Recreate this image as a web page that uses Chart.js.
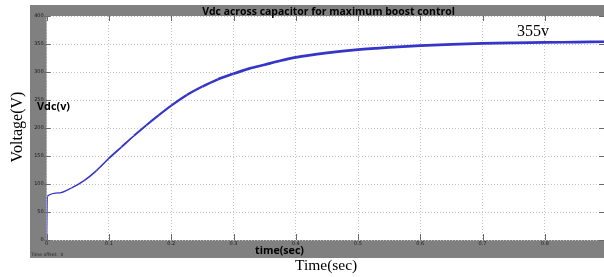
<!DOCTYPE html>
<html><head><meta charset="utf-8">
<script src="https://cdn.jsdelivr.net/npm/chart.js@4"></script>
<style>html,body{margin:0;padding:0;background:#fff;overflow:hidden}canvas{display:block}</style>
</head><body>
<canvas id="c" width="604" height="277"></canvas>
<script>
// ---- data ----
const timeSec = [0, 0.001, 0.02, 0.04, 0.06, 0.08, 0.1, 0.12, 0.14, 0.16, 0.18, 0.2, 0.225, 0.25, 0.275, 0.3, 0.325, 0.35, 0.375, 0.4, 0.45, 0.5, 0.55, 0.6, 0.65, 0.7, 0.75, 0.8, 0.85, 0.895];
const vdcVolts = [0, 78, 84, 93, 106, 124, 146, 166, 186, 205, 223, 240, 259, 274, 287, 297, 306, 313, 320, 326, 334, 340, 344, 347, 349.5, 351, 352, 352.8, 353.4, 354];
const xTickValues = [0, 0.1, 0.2, 0.3, 0.4, 0.5, 0.6, 0.7, 0.8];
const yTickValues = [0, 50, 100, 150, 200, 250, 300, 350, 400];
const chartTitle = 'Vdc across capacitor for maximum boost control';
const scopeXLabel = 'time(sec)';
const scopeYLabel = 'Vdc(v)';
const outerXLabel = 'Time(sec)';
const outerYLabel = 'Voltage(V)';
const annotation = '355v';
const offsetNote = 'Time offset:  0';

const points = timeSec.map((t, i) => ({x: t, y: vdcVolts[i]}));

function fitFont(ctx, text, weight, family, width) {
  ctx.font = weight + ' 10px ' + family;
  const w = ctx.measureText(text).width;
  const size = 10 * width / w;
  ctx.font = weight + ' ' + size.toFixed(2) + 'px ' + family;
}

const decor = {
  id: 'decor',
  beforeDraw(chart) {
    const ctx = chart.ctx, a = chart.chartArea;
    ctx.save();
    ctx.fillStyle = '#ffffff';
    ctx.fillRect(0, 0, chart.width, chart.height);
    ctx.fillStyle = '#808080';
    ctx.fillRect(30, 5, chart.width - 30, 253);
    ctx.fillStyle = '#ffffff';
    ctx.fillRect(a.left, a.top, a.right - a.left, a.bottom - a.top);
    ctx.restore();
  },
  afterDraw(chart) {
    const ctx = chart.ctx, a = chart.chartArea;
    const xs = chart.scales.x, ys = chart.scales.y;
    ctx.save();
    // inner tick marks
    ctx.strokeStyle = '#6a6a6a';
    ctx.lineWidth = 1;
    ctx.beginPath();
    xTickValues.forEach(v => {
      const px = Math.round(xs.getPixelForValue(v)) + 0.5;
      ctx.moveTo(px, a.bottom); ctx.lineTo(px, a.bottom - 6);
      ctx.moveTo(px, a.top); ctx.lineTo(px, a.top + 5);
    });
    yTickValues.forEach(v => {
      const py = Math.round(ys.getPixelForValue(v)) + 0.5;
      ctx.moveTo(a.left - 3, py); ctx.lineTo(a.left + 4, py);
      ctx.moveTo(a.right, py); ctx.lineTo(a.right - 5, py);
    });
    ctx.stroke();

    ctx.fillStyle = '#000';
    ctx.textBaseline = 'alphabetic';
    // scope title
    fitFont(ctx, chartTitle, 'bold', '"Open Sans", "DejaVu Sans", sans-serif', 253);
    ctx.textAlign = 'center';
    ctx.fillText(chartTitle, 328.5, 15);
    // scope x label
    fitFont(ctx, scopeXLabel, 'bold', '"Open Sans", "DejaVu Sans", sans-serif', 49);
    ctx.fillText(scopeXLabel, 279.5, 253.5);
    // time offset
    ctx.textAlign = 'left';
    ctx.fillStyle = '#222';
    ctx.font = '4.5px "DejaVu Sans", sans-serif';
    ctx.fillText(offsetNote, 31, 256);
    // scope y label overlay
    ctx.fillStyle = '#000';
    fitFont(ctx, scopeYLabel, 'bold', '"Open Sans", "DejaVu Sans", sans-serif', 33);
    ctx.fillText(scopeYLabel, 37, 110);
    // annotation
    ctx.font = '16px "Liberation Serif", "Times New Roman", serif';
    ctx.fillText(annotation, 517, 36);
    // outer x label
    ctx.font = '15.5px "Liberation Serif", "Times New Roman", serif';
    ctx.fillText(outerXLabel, 295, 270);
    // outer y label
    ctx.translate(22, 127);
    ctx.rotate(-Math.PI / 2);
    ctx.textAlign = 'center';
    ctx.font = '16px "Liberation Serif", "Times New Roman", serif';
    ctx.fillText(outerYLabel, 0, 0);
    ctx.restore();
  }
};

new Chart(document.getElementById('c'), {
  type: 'line',
  data: {
    datasets: [{
      data: points,
      borderColor: '#3535c8',
      borderWidth: 2,
      pointRadius: 0,
      cubicInterpolationMode: 'monotone',
      segment: {
        borderWidth: ctx => 1.3 + 1.4 * Math.min(1, ctx.p0.parsed.x / 0.3)
      }
    }]
  },
  options: {
    responsive: false,
    animation: false,
    devicePixelRatio: 1,
    layout: {padding: {left: 0, right: 0, top: 16, bottom: 0}},
    plugins: {legend: {display: false}, tooltip: {enabled: false}, title: {display: false}},
    scales: {
      x: {
        type: 'linear', min: 0, max: 0.895,
        afterBuildTicks: s => { s.ticks = xTickValues.map(v => ({value: v})); },
        afterFit: s => { s.height = 37; },
        ticks: {
          font: {size: 5, family: 'DejaVu Sans'}, color: '#1a1a1a', padding: 1, maxRotation: 0,
          callback: v => (v === 0 ? '0' : v.toFixed(1))
        },
        grid: {color: '#c4c4c4', lineWidth: 1, drawTicks: false},
        border: {display: false, dash: [1, 2]}
      },
      y: {
        type: 'linear', min: 0, max: 400,
        afterBuildTicks: s => { s.ticks = yTickValues.map(v => ({value: v})); },
        afterFit: s => { s.width = 46.7; },
        ticks: {font: {size: 5, family: 'DejaVu Sans'}, color: '#1a1a1a', padding: 3},
        grid: {color: '#c4c4c4', lineWidth: 1, drawTicks: false},
        border: {display: false, dash: [1, 2]}
      }
    }
  },
  plugins: [decor]
});
</script>
</body></html>
